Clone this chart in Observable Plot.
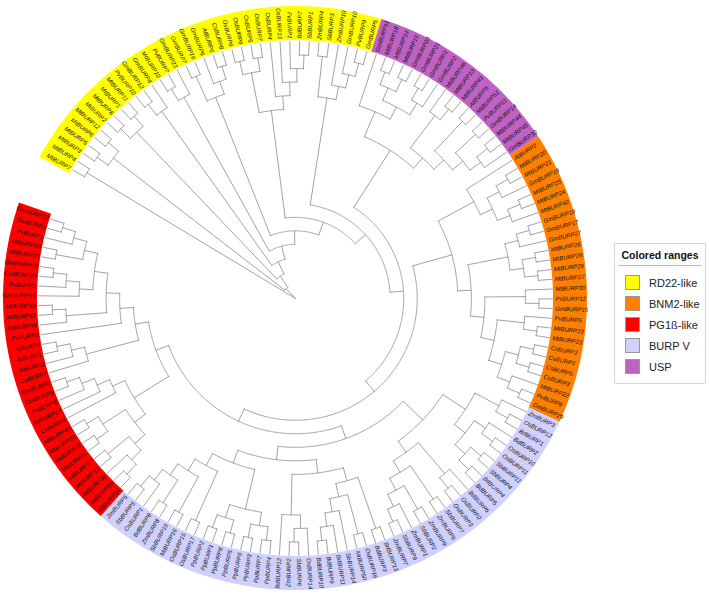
<!DOCTYPE html>
<html><head><meta charset="utf-8">
<script src="https://cdn.jsdelivr.net/npm/d3@7"></script>
<script src="https://cdn.jsdelivr.net/npm/@observablehq/plot@0.6"></script>
<style>
body{margin:0;background:#fff;font-family:"Liberation Sans",Arial,sans-serif}
#wrap{position:relative;width:709px;height:609px}
#legend{position:absolute;left:614px;top:243px;width:92px;border:1px solid #d8d8d8;background:#fff;box-sizing:border-box;padding:3px 0 6px 0}
#legend .title{font-weight:bold;font-size:10.5px;color:#111;text-align:center;padding:2px 0 4px 0;border-bottom:1px solid #bbb;margin:0 3px 6px 3px}
#legend .row{display:flex;align-items:center;height:21px;font-size:11px;color:#222;padding-left:10px}
#legend .sw{width:15px;height:15px;border:1px solid #999;margin-right:9px;box-sizing:border-box}
</style></head><body><div id="wrap"></div>
<script>
const groups = ["RD22-like", "BNM2-like", "PG1ß-like", "BURP V", "USP"];
const groupColors = ["#ffff00", "#ff8000", "#ff0000", "#d0d0ff", "#c062c4"];

const rd22 = ["MtBURP7","MtBURP4","MtBURP3","MtBURP5","MtBURP6","MtBURP12","MtBURP2","MtBURP8","MtBURP1","MtBURP11","PvBURP10","GmBURP12","GmBURP4","MtBURP10","PvBURP7","GmBURP23","GmBURP7","GmBURP16","GmBURP6","AtBURP6","CsBURP8","OsBURP6","OsBURP8","OsBURP5","OsBURP7","OsBURP4","OsBURP13","FvBURP1","BdBURP7","SbBURP1","ZmBURP4","SbBURP3","ZmBURP10","GmBURP10","PvBURP9","GmBURP5"];
const usp = ["GmBURP11","MtBURP18","MtBURP14","MtBURP15","GmBURP20","GmBURP21","GmBURP3","GmBURP2","MtBURP46","MtBURP13","MtBURP41","AtBURP5","MtBURP51","PvBURP11","GmBURP14","MtBURP44","MtBURP45","GmBURP30"];
const bnm2 = ["AtBURP2","MtBURP20","MtBURP21","GmBURP18","MtBURP25","MtBURP24","MtBURP42","GmBURP19","GmBURP17","GmBURP27","MtBURP26","MtBURP28","MtBURP29","MtBURP27","MtBURP30","PvBURP12","GmBURP15","PvBURP5","MtBURP19","MtBURP23","CsBURP2","CsBURP1","CsBURP5","CsBURP3","MtBURP22","PvBURP8","GmBURP29"];
const burpV = ["ZmBURP3","OsBURP12","BdBURP1","BdBURP2","OsBURP10","OsBURP11","SbBURP11","SbBURP4","BdBURP4","BdBURP5","BdBURP6","OsBURP2","OsBURP3","SbBURP7","ZmBURP6","ZmBURP9","SbBURP2","ZmBURP1","SbBURP9","ZmBURP7","BdBURP13","BdBURP3","OsBURP16","MtBURP50","SbBURP14","BdBURP11","BdBURP9","BdBURP10","OsBURP14","SbBURP6","ZmBURP2","BdBURP12","PpBURP4","PpBURP7","PpBURP3","PpBURP6","PpBURP5","PpBURP8","PpBURP1","PpBURP2","OsBURP17","OsBURP15","MtBURP16","SbBURP10","ZmBURP8","BdBURP8","OsBURP1","SbBURP5","ZmBURP5"];
const pg1b = ["MtBURP34","MtBURP39","MtBURP38","MtBURP32","MtBURP37","MtBURP35","MtBURP31","MtBURP36","MtBURP40","CsBURP4","MtBURP17","PvBURP6","GmBURP9","GmBURP8","CsBURP7","AtBURP3","AtBURP1","AtBURP4","PvBURP4","MtBURP49","MtBURP47","MtBURP48","GmBURP26","PvBURP2","GmBURP24","GmBURP25","MtBURP33","MtBURP43","PvBURP1","GmBURP1","GmBURP22"];
const members = {"RD22-like": rd22, "BNM2-like": bnm2, "PG1ß-like": pg1b, "BURP V": burpV, "USP": usp};

// topology (cladogram, leaves aligned)
const yA = "(MtBURP7,MtBURP4)";
const yB = "((MtBURP3,MtBURP5),(MtBURP6,MtBURP12))";
const yC = "((MtBURP2,MtBURP8),(MtBURP1,MtBURP11))";
const yD = "((PvBURP10,GmBURP12),GmBURP4)";
const yE = "((MtBURP10,PvBURP7),GmBURP23)";
const yF = "((GmBURP7,GmBURP16),(GmBURP6,(AtBURP6,CsBURP8)))";
const yG = "(((OsBURP6,OsBURP8),(OsBURP5,OsBURP7)),(OsBURP4,(OsBURP13,(FvBURP1,(BdBURP7,SbBURP1)))))";
const yH = "((ZmBURP4,SbBURP3),(ZmBURP10,(GmBURP10,(PvBURP9,GmBURP5))))";
const pU = "((GmBURP11,(((MtBURP18,MtBURP14),(MtBURP15,GmBURP20)),((GmBURP21,GmBURP3),GmBURP2))),((MtBURP46,(MtBURP13,MtBURP41)),((AtBURP5,MtBURP51),((PvBURP11,GmBURP14),((MtBURP44,MtBURP45),GmBURP30)))))";
const oB = "((AtBURP2,(((MtBURP20,MtBURP21),GmBURP18),((MtBURP25,MtBURP24),MtBURP42))),((((GmBURP19,GmBURP17),GmBURP27),((MtBURP26,MtBURP28),(MtBURP29,MtBURP27))),((MtBURP30,(PvBURP12,GmBURP15)),((PvBURP5,(MtBURP19,MtBURP23)),(((CsBURP2,CsBURP1),(CsBURP5,CsBURP3)),(MtBURP22,(PvBURP8,GmBURP29)))))))";
const l1 = "(ZmBURP3,(OsBURP12,BdBURP1))";
const l2 = "((BdBURP2,(OsBURP10,OsBURP11)),((SbBURP11,SbBURP4),(BdBURP4,BdBURP5)))";
const l3 = "((BdBURP6,(OsBURP2,OsBURP3)),((SbBURP7,ZmBURP6),((ZmBURP9,SbBURP2),(ZmBURP1,(SbBURP9,ZmBURP7)))))";
const l4 = "((BdBURP13,BdBURP3),((OsBURP16,MtBURP50),(SbBURP14,(BdBURP11,(BdBURP9,BdBURP10)))))";
const l5 = "((OsBURP14,(SbBURP6,ZmBURP2)),BdBURP12)";
const l6 = "(((PpBURP4,PpBURP7),(PpBURP3,PpBURP6)),((PpBURP5,PpBURP8),(PpBURP1,PpBURP2)))";
const l7 = "((OsBURP17,OsBURP15),((MtBURP16,SbBURP10),((ZmBURP8,BdBURP8),(OsBURP1,(SbBURP5,ZmBURP5)))))";
const r1 = "((((MtBURP34,MtBURP39),MtBURP38),(MtBURP32,MtBURP37)),((MtBURP35,MtBURP31),(MtBURP36,MtBURP40)))";
const r2 = "(CsBURP4,(MtBURP17,(PvBURP6,(GmBURP9,GmBURP8))))";
const r3 = "(CsBURP7,(AtBURP3,(AtBURP1,AtBURP4)))";
const r4 = "(PvBURP4,((MtBURP49,(MtBURP47,MtBURP48)),((GmBURP26,(PvBURP2,(GmBURP24,GmBURP25))),((MtBURP33,MtBURP43),(PvBURP1,(GmBURP1,GmBURP22))))))";
const lav = `(((${l1},${l2}),${l3}),((${l4},${l5}),(${l6},${l7})))`;
const red = `((${r1},${r2}),(${r3},${r4}))`;
const big = `(${pU},(${oB},(${lav},${red})))`;
const newick = `(${yA},(${yB},(${yC},(${yD},(${yE},(${yF},(${yG},(${yH},${big}))))))))`;

function parseNewick(s) {
  let i = 0;
  function node() {
    if (s[i] === "(") {
      i++;
      const children = [];
      children.push(node());
      while (s[i] === ",") { i++; children.push(node()); }
      i++;
      return {children};
    }
    const j = i;
    while (i < s.length && !",()".includes(s[i])) i++;
    return {name: s.slice(j, i)};
  }
  return node();
}

const W = 709, H = 609;
const cx = 295, cy = 298, Rtip = 257, Rlab = 260, Rin = 258, Rout = 292;
const rad = d => d * Math.PI / 180;
const px = (r, a) => cx + r * Math.sin(rad(a));
const py = (r, a) => cy - r * Math.cos(rad(a));

const root = d3.hierarchy(parseNewick(newick));
const leaves = root.leaves();
const n = leaves.length;
const aStart = -60, aEnd = 288;
const step = (aEnd - aStart) / (n - 1);
leaves.forEach((d, k) => d.angle = aStart + k * step);
root.eachAfter(d => { if (d.children) d.angle = d3.mean(d.children, c => c.angle); });
const Ht = root.height;
root.each(d => d.r = Rtip * (1 - d.height / Ht));

const seg = [];
let id = 0;
root.each(d => {
  if (!d.children) return;
  const lo = d3.min(d.children, c => c.angle), hi = d3.max(d.children, c => c.angle);
  const m = Math.max(2, Math.ceil((hi - lo) / 0.5));
  for (let i = 0; i <= m; i++) { const a = lo + (hi - lo) * i / m; seg.push({id, x: px(d.r, a), y: py(d.r, a)}); }
  id++;
  for (const c of d.children) {
    seg.push({id, x: px(d.r, c.angle), y: py(d.r, c.angle)}, {id, x: px(c.r, c.angle), y: py(c.r, c.angle)});
    id++;
  }
});

const groupOf = new Map();
for (const g of groups) for (const nm of members[g]) groupOf.set(nm, g);
const band = [];
for (const g of groups) {
  const ls = leaves.filter(d => groupOf.get(d.data.name) === g);
  const lo = d3.min(ls, d => d.angle) - step / 2, hi = d3.max(ls, d => d.angle) + step / 2;
  const m = Math.ceil((hi - lo) / 0.5);
  for (let i = 0; i <= m; i++) {
    const a = lo + (hi - lo) * i / m;
    band.push({g, ox: px(Rout, a), oy: py(Rout, a), ix: px(Rin, a), iy: py(Rin, a)});
  }
}

const labs = leaves.map(d => {
  const a = ((d.angle % 360) + 360) % 360;
  const right = a < 180;
  return {name: d.data.name, x: px(Rlab, d.angle), y: py(Rlab, d.angle), rot: right ? a - 90 : a + 90, right};
});

const font = {fontSize: 6, fontStyle: "italic", fontFamily: "Liberation Sans, Arial, sans-serif", fill: "#111"};
const chart = Plot.plot({
  width: W, height: H, margin: 0,
  x: {domain: [0, W], range: [0, W], axis: null},
  y: {domain: [0, H], range: [0, H], axis: null},
  color: {domain: groups, range: groupColors},
  style: {background: "white"},
  marks: [
    Plot.area(band, {x1: "ox", y1: "oy", x2: "ix", y2: "iy", z: "g", fill: "g"}),
    Plot.line(seg, {x: "x", y: "y", z: "id", stroke: "#8c8c8c", strokeWidth: 0.8}),
    Plot.text(labs.filter(d => d.right), {x: "x", y: "y", text: "name", rotate: "rot", textAnchor: "start", ...font}),
    Plot.text(labs.filter(d => !d.right), {x: "x", y: "y", text: "name", rotate: "rot", textAnchor: "end", ...font})
  ]
});
const wrap = document.getElementById("wrap");
wrap.appendChild(chart);

const lg = d3.select(wrap).append("div").attr("id", "legend");
lg.append("div").attr("class", "title").text("Colored ranges");
groups.forEach((g, i) => {
  const row = lg.append("div").attr("class", "row");
  row.append("span").attr("class", "sw").style("background", groupColors[i]);
  row.append("span").text(g);
});
</script></body></html>
